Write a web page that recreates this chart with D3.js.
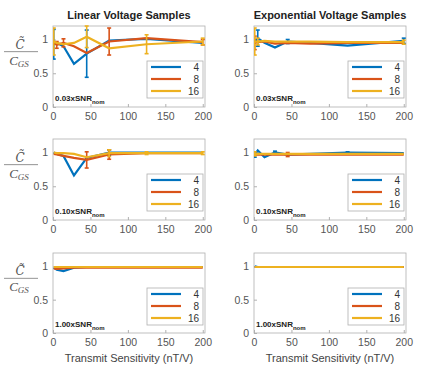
<!DOCTYPE html>
<html><head><meta charset="utf-8">
<script src="https://cdn.jsdelivr.net/npm/d3@7"></script>
<style>body{margin:0;background:#fff}</style>
</head><body>
<svg id="c" width="425" height="368"></svg>
<script>
const xs = [1, 5, 14, 28, 45, 75, 125, 200];
const seriesNames = ["4", "8", "16"];
const colors = ["#0072BD", "#D95319", "#EDB120"];
const colTitles = ["Linear Voltage Samples", "Exponential Voltage Samples"];
const snrLabels = ["0.03xSNR", "0.10xSNR", "1.00xSNR"];
const xTicks = [0, 50, 100, 150, 200];
const yTicks = [0, 0.5, 1];

// Linear, 0.03
const lin03_4 = [0.93, 0.95, 0.90, 0.64, 0.79, 0.985, 1.01, 0.95];
const lin03_4e = [0.22, 0, 0, 0, 0.35, 0, 0, 0];
const lin03_8 = [0.95, 0.92, 0.95, 0.90, 0.80, 0.97, 1.02, 0.96];
const lin03_8e = [0, 0.05, 0.06, 0, 0, 0.2, 0, 0.04];
const lin03_16 = [0.97, 0.95, 0.93, 0.95, 1.04, 0.87, 0.93, 0.97];
const lin03_16e = [0.2, 0, 0, 0, 0.16, 0, 0.14, 0.05];
// Exponential, 0.03
const exp03_4 = [0.97, 1.02, 0.95, 0.88, 0.97, 0.95, 0.91, 0.98];
const exp03_4e = [0, 0.12, 0, 0, 0.03, 0, 0, 0.04];
const exp03_8 = [0.95, 0.96, 0.97, 0.94, 0.95, 0.94, 0.95, 0.95];
const exp03_8e = [0.1, 0, 0, 0, 0, 0, 0, 0];
const exp03_16 = [0.97, 0.97, 0.98, 0.97, 0.97, 0.97, 0.96, 0.96];
const exp03_16e = [0.2, 0.05, 0, 0, 0, 0, 0, 0.03];
// Linear, 0.10
const lin10_4 = [1.0, 0.98, 0.95, 0.66, 0.92, 1.0, 1.0, 1.0];
const lin10_4e = [0, 0, 0, 0, 0, 0.04, 0, 0];
const lin10_8 = [0.98, 0.97, 0.95, 0.92, 0.89, 0.97, 0.99, 0.99];
const lin10_8e = [0, 0, 0, 0, 0.12, 0.07, 0, 0];
const lin10_16 = [1.0, 0.99, 0.99, 0.98, 0.93, 0.99, 0.99, 0.99];
const lin10_16e = [0, 0, 0, 0, 0, 0.05, 0.02, 0.02];
// Exponential, 0.10
const exp10_4 = [0.97, 1.03, 0.93, 1.0, 0.97, 0.98, 1.0, 0.99];
const exp10_4e = [0.04, 0, 0, 0.02, 0, 0, 0.01, 0];
const exp10_8 = [0.96, 0.97, 0.97, 0.97, 0.97, 0.97, 0.97, 0.97];
const exp10_8e = [0, 0, 0, 0, 0.03, 0, 0, 0];
const exp10_16 = [0.98, 0.98, 0.98, 0.98, 0.98, 0.98, 0.98, 0.98];
const exp10_16e = [0.03, 0, 0, 0, 0, 0, 0, 0];
// Linear, 1.00
const lin100_4 = [0.98, 0.95, 0.93, 0.98, 0.99, 0.99, 0.99, 0.99];
const lin100_8 = [0.97, 0.96, 0.97, 0.98, 0.98, 0.98, 0.98, 0.98];
const lin100_16 = [0.99, 0.99, 0.99, 0.99, 0.99, 0.99, 0.99, 0.99];
// Exponential, 1.00
const exp100_4 = [1.0, 0.99, 0.99, 0.99, 0.99, 0.99, 0.99, 0.99];
const exp100_8 = [0.99, 0.99, 0.99, 0.99, 0.99, 0.99, 0.99, 0.99];
const exp100_16 = [0.99, 0.99, 0.99, 0.99, 0.99, 0.99, 0.99, 0.99];
const zeros = [0, 0, 0, 0, 0, 0, 0, 0];

const panels = [
  [[lin03_4, lin03_4e], [lin03_8, lin03_8e], [lin03_16, lin03_16e]],
  [[exp03_4, exp03_4e], [exp03_8, exp03_8e], [exp03_16, exp03_16e]],
  [[lin10_4, lin10_4e], [lin10_8, lin10_8e], [lin10_16, lin10_16e]],
  [[exp10_4, exp10_4e], [exp10_8, exp10_8e], [exp10_16, exp10_16e]],
  [[lin100_4, zeros], [lin100_8, zeros], [lin100_16, zeros]],
  [[exp100_4, zeros], [exp100_8, zeros], [exp100_16, zeros]]
];

const svg = d3.select("#c");
const font = "'Liberation Sans', Arial, sans-serif";
const colX = [[53, 205], [254, 406]];
const rowY = [[26, 107], [139, 220], [253, 333]];

panels.forEach((p, i) => {
  const r = Math.floor(i / 2), c = i % 2;
  const x = d3.scaleLinear().domain([0, 203]).range(colX[c]);
  const y = d3.scaleLinear().domain([0, 1.2]).range([rowY[r][1], rowY[r][0]]);
  const g = svg.append("g");
  g.append("rect").attr("x", colX[c][0]).attr("y", rowY[r][0])
    .attr("width", colX[c][1] - colX[c][0]).attr("height", rowY[r][1] - rowY[r][0])
    .attr("fill", "#fff").attr("stroke", "#b0b0b0").attr("stroke-width", 0.8);
  const xa = g.append("g").attr("transform", `translate(0,${rowY[r][1]})`)
    .call(d3.axisBottom(x).tickValues(xTicks).tickSize(-3).tickPadding(6));
  const ya = g.append("g").attr("transform", `translate(${colX[c][0]},0)`)
    .call(d3.axisLeft(y).tickValues(yTicks).tickSize(-3).tickPadding(5).tickFormat(d3.format("")));
  [xa, ya].forEach(a => {
    a.select(".domain").remove();
    a.selectAll("line").attr("stroke", "#b0b0b0");
    a.selectAll("text").attr("fill", "#555").style("font-family", font).style("font-size", "10.5px");
  });
  const clip = "clip" + i;
  g.append("clipPath").attr("id", clip).append("rect")
    .attr("x", colX[c][0]).attr("y", rowY[r][0] - 1)
    .attr("width", colX[c][1] - colX[c][0]).attr("height", rowY[r][1] - rowY[r][0] + 1);
  const pg = g.append("g").attr("clip-path", `url(#${clip})`);
  p.forEach(([vals, errs], s) => {
    const pts = xs.map((xv, k) => ({x: xv, y: vals[k], e: errs[k]}));
    pg.append("path").datum(pts)
      .attr("d", d3.line().x(d => x(d.x)).y(d => y(d.y)))
      .attr("fill", "none").attr("stroke", colors[s]).attr("stroke-width", 2.2);
    pts.filter(d => d.e > 0).forEach(d => {
      const eg = pg.append("g").attr("stroke", colors[s]).attr("stroke-width", 1.6);
      eg.append("line").attr("x1", x(d.x)).attr("x2", x(d.x)).attr("y1", y(d.y - d.e)).attr("y2", y(d.y + d.e));
      [d.y - d.e, d.y + d.e].forEach(v => eg.append("line")
        .attr("x1", x(d.x) - 2).attr("x2", x(d.x) + 2).attr("y1", y(v)).attr("y2", y(v)));
    });
  });
  // legend
  const lx = colX[c][1] - 58, ly = rowY[r][0] + 35;
  g.append("rect").attr("x", lx).attr("y", ly).attr("width", 56).attr("height", 37)
    .attr("fill", "#fff").attr("stroke", "#b0b0b0").attr("stroke-width", 0.8);
  seriesNames.forEach((n, s) => {
    const yy = ly + 6 + s * 12;
    g.append("line").attr("x1", lx + 4).attr("x2", lx + 34).attr("y1", yy).attr("y2", yy)
      .attr("stroke", colors[s]).attr("stroke-width", 2.2);
    g.append("text").attr("x", lx + 52).attr("y", yy + 3.5).attr("text-anchor", "end")
      .attr("fill", "#333").style("font-family", font).style("font-size", "10px").text(n);
  });
  // SNR annotation
  const t = g.append("text").attr("x", colX[c][0] + 2).attr("y", rowY[r][1] - 6)
    .attr("fill", "#222").style("font-family", font).style("font-size", "8px").style("font-weight", "bold");
  t.append("tspan").text(snrLabels[r]);
  t.append("tspan").attr("dy", 3).style("font-size", "6px").text("nom");
  // y label
  if (c === 0) {
    const cy = y(0.82);
    const sf = "'DejaVu Serif', 'Liberation Serif', serif";
    g.append("text").attr("x", 20).attr("y", cy - 3).attr("text-anchor", "middle")
      .attr("fill", "#555").style("font-family", sf).style("font-style", "italic").style("font-size", "12px").text("C\u0303");
    g.append("line").attr("x1", 4).attr("x2", 38).attr("y1", cy).attr("y2", cy).attr("stroke", "#777").attr("stroke-width", 0.8);
    const t2 = g.append("text").attr("x", 19).attr("y", cy + 13).attr("text-anchor", "middle")
      .attr("fill", "#555").style("font-family", "'Liberation Serif', serif").style("font-style", "italic").style("font-size", "13px");
    t2.append("tspan").text("C");
    t2.append("tspan").attr("dy", 2).style("font-size", "9px").text("GS");
  }
});

colTitles.forEach((tt, c) => {
  svg.append("text").attr("x", (colX[c][0] + colX[c][1]) / 2).attr("y", 19).attr("text-anchor", "middle")
    .attr("fill", "#222").style("font-family", font).style("font-size", "11px").style("font-weight", "bold").text(tt);
  svg.append("text").attr("x", (colX[c][0] + colX[c][1]) / 2).attr("y", 362).attr("text-anchor", "middle")
    .attr("fill", "#444").style("font-family", font).style("font-size", "11px").text("Transmit Sensitivity (nT/V)");
});
</script>
</body></html>
